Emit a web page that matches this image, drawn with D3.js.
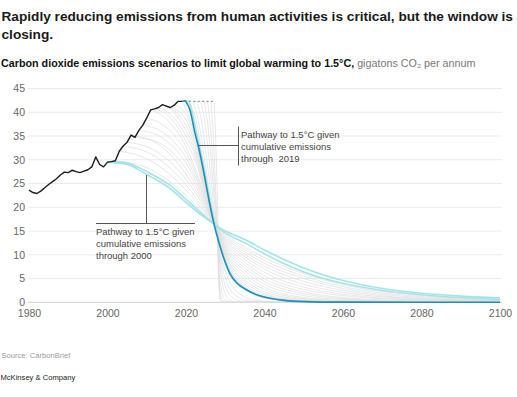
<!DOCTYPE html>
<html><head><meta charset="utf-8">
<script src="https://cdn.jsdelivr.net/npm/d3@7"></script>
<style>body{margin:0;background:#fff}svg{display:block}</style>
</head><body>
<svg id="c" width="517" height="397"></svg>
<script>
// ---------- DATA ----------
const xTicks = [1980, 2000, 2020, 2040, 2060, 2080, 2100];
const yTicks = [0, 5, 10, 15, 20, 25, 30, 35, 40, 45];

const histYears = [1980,1981,1982,1983,1984,1985,1986,1987,1988,1989,1990,1991,1992,1993,1994,1995,1996,1997,1998,1999,2000,2001,2002,2003,2004,2005,2006,2007,2008,2009,2010,2011,2012,2013,2014,2015,2016,2017,2018,2019];
const histValues = [23.6,23.1,22.9,23.4,24.1,24.8,25.4,26.0,26.8,27.4,27.3,27.8,27.5,27.3,27.6,27.9,28.5,30.6,29.0,28.5,29.5,29.6,29.8,31.8,32.9,33.7,35.2,34.7,36.2,37.3,38.8,40.5,40.7,41.0,41.6,41.3,41.0,41.5,42.3,42.3];

const flatYears = [2019.6, 2027.3];
const flatValue = 42.3;

// Pathway to 1.5°C given cumulative emissions through 2000 (two highlighted cyan traces)
const pathway2000 = [[2000,29.5],[2005,29.0],[2010,26.9],[2016,23.9],[2020,21.0],[2025,17.7],[2027.4,16.3],[2030,15.0],[2035,13.2],[2040,11.0],[2045,9.0],[2050,7.2],[2056,5.5],[2060,4.6],[2070,2.9],[2080,1.9],[2090,1.3],[2100,0.9]];
const pathway2001 = [[2000.6,29.6],[2005,29.3],[2010,27.5],[2016,24.6],[2020,21.7],[2025,18.0],[2027.4,16.3],[2030,14.6],[2035,12.5],[2040,10.2],[2045,8.1],[2050,6.4],[2056,4.8],[2060,4.0],[2070,2.5],[2080,1.6],[2090,1.0],[2100,0.6]];

// Pathway to 1.5°C given cumulative emissions through 2019
const pathway2019 = [[2019,42.3],[2019.7,42.4],[2020.3,41.8],[2021,40.5],[2022.3,35.6],[2023.1,33.0],[2024.4,27.9],[2025.7,22.2],[2026.9,17.3],[2028.2,13.1],[2029.5,9.6],[2031.2,6.0],[2033,4.0],[2035.5,2.6],[2038,1.6],[2040.5,1.0],[2045,0.4],[2050,0.15],[2060,0.03],[2100,0]];
const pathway2020 = [[2019.5,42.4],[2020.6,42.3],[2021.5,40.2],[2022.8,35.2],[2024.8,27.4],[2026.2,21.0],[2027.3,16.9],[2028.5,12.6],[2030,8.6],[2032,5.2],[2035,2.9],[2040,1.1],[2050,0.2],[2060,0.05],[2100,0]];

// Other scenario pathways (grey)
const greyPathways = [
  [[2001,29.6],[2010,27.6],[2020,21.3],[2025,17.9],[2027.4,16.3],[2030,14.3],[2035,11.6],[2040,9.4],[2050,6.0],[2060,3.7],[2080,1.4],[2100,0.6]],
  [[2002,29.8],[2011,28.0],[2020,22.5],[2025,18.3],[2027.4,16.3],[2030,14.0],[2035,11.1],[2040,8.8],[2050,5.5],[2060,3.3],[2080,1.2],[2100,0.5]],
  [[2003,31.8],[2011,29.8],[2020,23.6],[2025,18.7],[2027.4,16.3],[2030,13.7],[2035,10.6],[2040,8.2],[2050,5.0],[2060,2.9],[2080,1.0],[2100,0.4]],
  [[2004,32.9],[2012,30.8],[2020,24.7],[2025,19.1],[2027.4,16.3],[2030,13.4],[2035,10.1],[2040,7.6],[2050,4.4],[2060,2.5],[2080,0.8],[2100,0.35]],
  [[2005,33.7],[2012,32.0],[2020,25.9],[2025,19.6],[2027.4,16.3],[2030,13.1],[2035,9.6],[2040,7.0],[2050,3.8],[2060,2.1],[2080,0.7],[2100,0.3]],
  [[2006,35.2],[2013,33.2],[2020,27.0],[2025,20.0],[2027.4,16.3],[2030,12.8],[2035,9.0],[2040,6.3],[2050,3.2],[2060,1.7],[2080,0.55],[2100,0.25]],
  [[2007,34.7],[2013,33.6],[2020,28.1],[2025,20.4],[2027.4,16.3],[2030,12.4],[2035,8.4],[2040,5.6],[2050,2.7],[2060,1.4],[2080,0.45],[2100,0.2]],
  [[2008,36.2],[2014,34.6],[2020,29.3],[2025,20.8],[2027.4,16.3],[2030,12.0],[2035,7.8],[2040,5.0],[2050,2.2],[2060,1.0],[2080,0.3],[2100,0.15]],
  [[2009,37.3],[2014,35.8],[2020,30.4],[2025,21.2],[2027.4,16.3],[2030,11.6],[2035,7.2],[2040,4.4],[2050,1.8],[2060,0.8],[2080,0.2],[2100,0.1]],
  [[2010,38.8],[2015,36.8],[2020,31.6],[2025,21.6],[2027.4,16.3],[2030,11.2],[2035,6.6],[2040,3.8],[2050,1.4],[2060,0.6],[2080,0.15],[2100,0.05]],
  [[2011,40.5],[2015,38.6],[2020,32.7],[2025,22.0],[2027.4,16.3],[2030,10.8],[2035,6.0],[2040,3.2],[2050,1.0],[2060,0.4],[2080,0.1],[2100,0]],
  [[2012,40.7],[2016,38.9],[2020,33.8],[2022.5,29.5],[2025,22.4],[2027.4,16.3],[2030,10.4],[2035,5.4],[2040,2.7],[2050,0.8],[2060,0.3],[2080,0.05],[2100,0]],
  [[2013,41.0],[2016,39.6],[2020,35.0],[2022.5,30.5],[2025,22.8],[2027.4,16.3],[2030,10.0],[2035,4.8],[2040,2.2],[2050,0.6],[2060,0.2],[2080,0],[2100,0]],
  [[2014,41.6],[2017,39.9],[2020,36.1],[2022.5,31.2],[2025,23.2],[2027.4,16.3],[2030,9.6],[2035,4.3],[2040,1.8],[2050,0.4],[2060,0.1],[2080,0],[2100,0]],
  [[2015,41.3],[2017.5,40.0],[2020,37.2],[2022.5,32.0],[2025,23.6],[2027.4,16.3],[2030,9.2],[2035,3.8],[2040,1.5],[2050,0.3],[2060,0.05],[2080,0],[2100,0]],
  [[2016,41.0],[2018,40.3],[2020,38.4],[2022.5,32.8],[2025,24.1],[2027.4,16.3],[2030,8.9],[2035,3.4],[2040,1.2],[2050,0.2],[2060,0],[2080,0],[2100,0]],
  [[2017,41.5],[2018.5,41.0],[2020,39.5],[2022.5,33.6],[2025,24.5],[2027.4,16.3],[2030,8.6],[2035,3.1],[2040,1.0],[2050,0.15],[2060,0],[2080,0],[2100,0]],
  [[2018,42.3],[2019,42.1],[2020,40.6],[2022.5,34.4],[2025,24.9],[2027.4,16.3],[2030,8.4],[2035,2.9],[2040,0.9],[2050,0.1],[2060,0],[2080,0],[2100,0]],
  [[2020.8,42.3],[2022.5,38.5],[2024.5,29.0],[2026.3,20.5],[2027.5,16.2],[2029,9.5],[2031,4.5],[2034,1.6],[2038,0.4],[2045,0],[2100,0]],
  [[2021.8,42.3],[2023.2,38.0],[2025,28.5],[2026.7,19.5],[2027.6,16.0],[2029,8.5],[2030.5,4.0],[2033,1.2],[2036,0.3],[2042,0],[2100,0]],
  [[2022.8,42.3],[2024,38.0],[2025.6,28.0],[2027,19.0],[2027.7,15.8],[2028.8,8.0],[2030,3.5],[2032,0.9],[2035,0.1],[2040,0],[2100,0]],
  [[2023.7,42.3],[2024.8,38.0],[2026.2,27.5],[2027.3,19.0],[2027.8,15.6],[2028.7,7.0],[2029.6,2.8],[2031,0.6],[2033,0],[2100,0]],
  [[2024.6,42.3],[2025.6,37.0],[2026.8,26.0],[2027.6,18.0],[2027.9,15.5],[2028.5,6.0],[2029.2,2.0],[2030.2,0.3],[2031.5,0],[2100,0]],
  [[2025.5,42.3],[2026.3,36.0],[2027.2,25.0],[2027.8,17.5],[2028,15.4],[2028.4,5.0],[2029,1.0],[2030,0],[2100,0]],
  [[2026.4,42.3],[2027,34.0],[2027.6,23.0],[2028,15.3],[2028.3,5.0],[2028.8,0.5],[2029.5,0],[2100,0]],
  [[2027.2,42.3],[2027.6,33.0],[2028,22.0],[2028.2,15.2],[2028.4,5.0],[2028.7,0.5],[2029.2,0],[2100,0]]
];

const titleLines = ["Rapidly reducing emissions from human activities is critical, but the window is", "closing."];
const subtitleBold = "Carbon dioxide emissions scenarios to limit global warming to 1.5°C,";
const subtitleRest = " gigatons CO\u2082 per annum";
const note2019 = ["Pathway to 1.5°C given", "cumulative emissions", "through  2019"];
const note2000 = ["Pathway to 1.5°C given", "cumulative emissions", "through 2000"];
const sourceText = "Source: CarbonBrief";
const brandText = "McKinsey & Company";

// ---------- DRAW ----------
const svg = d3.select("#c");
const FONT = "'Liberation Sans', Arial, sans-serif";
const x = d3.scaleLinear().domain([1980, 2100]).range([29, 500]);
const y = d3.scaleLinear().domain([0, 45]).range([302.3, 88.5]);

function fit(sel, target) {
  const w = sel.node().getComputedTextLength();
  const fs = parseFloat(sel.attr("font-size"));
  sel.attr("font-size", (fs * target / w).toFixed(2));
}

// title
const t1 = svg.append("text").attr("x", 1.5).attr("y", 20.5).attr("font-family", FONT)
  .attr("font-size", 15.5).attr("font-weight", "bold").attr("fill", "#1a1a1a").text(titleLines[0]);
fit(t1, 512);
svg.append("text").attr("x", 1.5).attr("y", 38.5).attr("font-family", FONT)
  .attr("font-size", t1.attr("font-size")).attr("font-weight", "bold").attr("fill", "#1a1a1a").text(titleLines[1]);

// subtitle
const sub = svg.append("text").attr("x", 1).attr("y", 66.5).attr("font-family", FONT).attr("font-size", 10);
sub.append("tspan").attr("font-weight", "bold").attr("fill", "#111").text(subtitleBold);
sub.append("tspan").attr("fill", "#777").text(subtitleRest);
fit(sub, 475);

// gridlines
svg.append("g").selectAll("line").data(yTicks).join("line")
  .attr("x1", 28).attr("x2", 502).attr("y1", d => y(d)).attr("y2", d => y(d))
  .attr("stroke", d => d === 0 ? "#cfcfcf" : "#ebebeb").attr("stroke-width", 1);

// axes labels via d3 axes
const yAxis = svg.append("g").attr("transform", "translate(26,0)")
  .call(d3.axisLeft(y).tickValues(yTicks).tickSize(0).tickPadding(1));
yAxis.select(".domain").remove();
yAxis.selectAll("text").attr("font-family", FONT).attr("font-size", 10.5).attr("fill", "#666");

const xAxis = svg.append("g").attr("transform", "translate(0,310)")
  .call(d3.axisBottom(x).tickValues(xTicks).tickFormat(d3.format("d")).tickSize(0).tickPadding(0));
xAxis.select(".domain").remove();
xAxis.selectAll("text").attr("font-family", FONT).attr("font-size", 10.5).attr("fill", "#666").attr("dy", "0.71em");

const line = d3.line().x(d => x(d[0])).y(d => y(d[1])).curve(d3.curveMonotoneX);

// grey scenario lines
svg.append("g").selectAll("path").data(greyPathways).join("path")
  .attr("d", line).attr("fill", "none").attr("stroke", "#dcdcdc").attr("stroke-width", 0.7);

// highlighted cyan companions
[pathway2001, pathway2000, pathway2020].forEach(p => {
  svg.append("path").attr("d", line(p)).attr("fill", "none")
    .attr("stroke", "#a3e4e7").attr("stroke-width", 1.6);
});

// 2019 pathway (blue)
svg.append("path").attr("d", line(pathway2019)).attr("fill", "none")
  .attr("stroke", "#1f8fb8").attr("stroke-width", 1.6);

// flat continuation (dashed)
svg.append("line").attr("x1", x(flatYears[0])).attr("x2", x(flatYears[1]))
  .attr("y1", y(flatValue)).attr("y2", y(flatValue))
  .attr("stroke", "#777").attr("stroke-width", 0.9).attr("stroke-dasharray", "2.2,2.2");

// historical emissions
const hist = histYears.map((yr, i) => [yr, histValues[i]]);
svg.append("path").attr("d", d3.line().x(d => x(d[0])).y(d => y(d[1]))(hist))
  .attr("fill", "none").attr("stroke", "#1c1c1c").attr("stroke-width", 1.4).attr("stroke-linejoin", "round");

// annotations
const ann = svg.append("g").attr("stroke", "#555").attr("stroke-width", 1).attr("fill", "none");
ann.append("line").attr("x1", 198.5).attr("x2", 238.5).attr("y1", 145.5).attr("y2", 145.5);
ann.append("line").attr("x1", 238.5).attr("x2", 238.5).attr("y1", 126.5).attr("y2", 165.5);
ann.append("line").attr("x1", 146.5).attr("x2", 146.5).attr("y1", 175).attr("y2", 223.5);
ann.append("line").attr("x1", 96).attr("x2", 195).attr("y1", 223.5).attr("y2", 223.5);

function note(lines, x0, y0) {
  const g = svg.append("g");
  lines.forEach((s, i) => {
    const t = g.append("text").attr("x", x0).attr("y", y0 + i * 12.4).attr("font-family", FONT)
      .attr("font-size", 10.2).attr("fill", "#444").attr("xml:space", "preserve").text(s);
    if (i === 0) fit(t, 98.5);
  });
  const fs = g.select("text").attr("font-size");
  g.selectAll("text").attr("font-size", fs);
}
note(note2019, 241, 137.5);
note(note2000, 96, 234.5);

// footer
svg.append("text").attr("x", 1.5).attr("y", 358).attr("font-family", FONT).attr("font-size", 7.6)
  .attr("fill", "#9a9a9a").text(sourceText);
svg.append("text").attr("x", 0.5).attr("y", 380).attr("font-family", FONT).attr("font-size", 7.6)
  .attr("fill", "#222").text(brandText);
</script>
</body></html>
